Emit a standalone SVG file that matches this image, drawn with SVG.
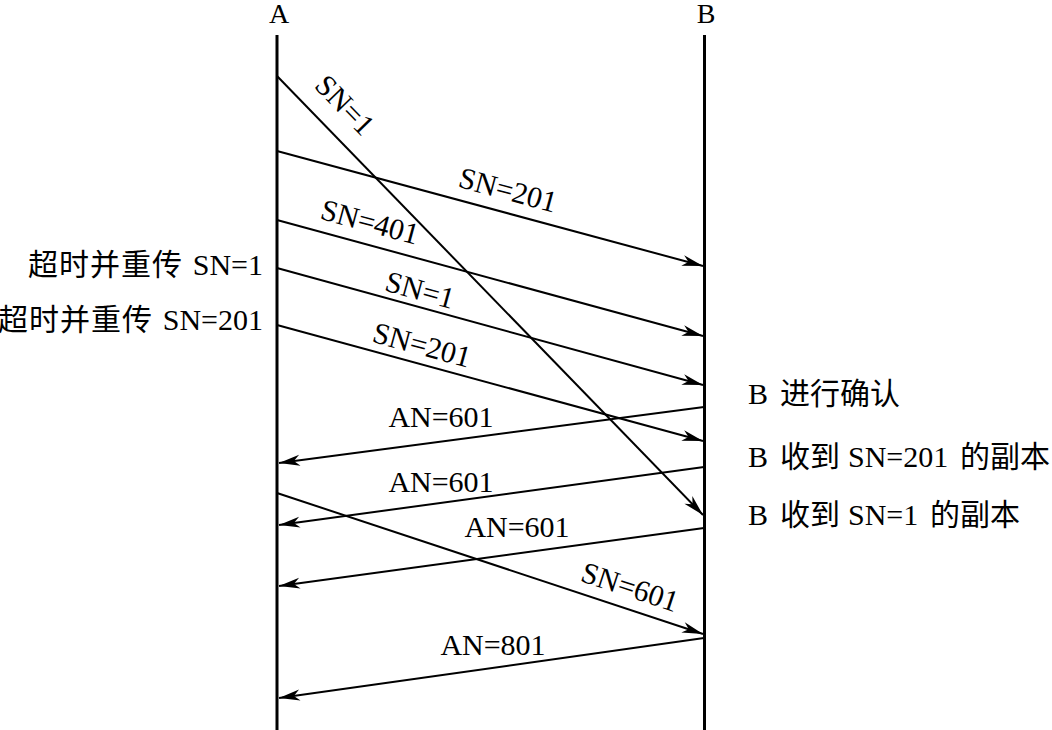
<svg xmlns="http://www.w3.org/2000/svg" width="1052" height="730" viewBox="0 0 1052 730">
<defs>
<style>
.t{font-family:"Liberation Serif","Times New Roman",serif;font-size:30px;fill:#000}
.c{font-family:"Noto Sans CJK SC","Noto Sans CJK TC",sans-serif;font-size:30px;fill:#000}
.m{text-anchor:middle}
.e{text-anchor:end}
.life{stroke:#000;stroke-width:3;fill:none}
.msg{stroke:#000;stroke-width:2;fill:none;marker-end:url(#ah)}
</style>
<marker id="ah" markerUnits="userSpaceOnUse" markerWidth="24" markerHeight="14" viewBox="-22 -7 24 14" refX="0" refY="0" orient="auto">
<path d="M0,0 L-21,-5.5 L-15,0 L-21,5.5 Z" fill="#000"/>
</marker>
</defs>
<rect width="1052" height="730" fill="#fff"/>
<g id="nodeA">
<text class="t m" x="279" y="23" style="font-size:28px">A</text>
<line class="life" x1="277" y1="35" x2="277" y2="730"/>
</g>
<g id="nodeB">
<text class="t m" x="706" y="23" style="font-size:28px">B</text>
<line class="life" x1="704.5" y1="35" x2="704.5" y2="730"/>
</g>
<g id="connectors">
<line class="msg" x1="277" y1="76" x2="703" y2="515"/>
<line class="msg" x1="277" y1="151" x2="703" y2="266"/>
<line class="msg" x1="277" y1="220" x2="703" y2="336"/>
<line class="msg" x1="277" y1="268" x2="703" y2="385"/>
<line class="msg" x1="277" y1="325" x2="703" y2="441"/>
<line class="msg" x1="704" y1="407" x2="279" y2="463"/>
<line class="msg" x1="704" y1="467" x2="279" y2="525"/>
<line class="msg" x1="704" y1="528" x2="279" y2="586"/>
<line class="msg" x1="277" y1="493" x2="703" y2="634"/>
<line class="msg" x1="704" y1="638" x2="279" y2="698"/>
</g>
<g id="labels">
<text class="t m" transform="translate(345,105) rotate(45.9)" y="10">SN=1</text>
<text class="t m" transform="translate(508,190) rotate(15.1)" y="10">SN=201</text>
<text class="t m" transform="translate(370,222) rotate(15.2)" y="10">SN=401</text>
<text class="t m" transform="translate(420,290) rotate(15.4)" y="10">SN=1</text>
<text class="t m" transform="translate(422,345) rotate(15.2)" y="10">SN=201</text>
<text class="t m" transform="translate(630,587) rotate(18.3)" y="10">SN=601</text>
<text class="t m" x="441" y="427">AN=601</text>
<text class="t m" x="441" y="492">AN=601</text>
<text class="t m" x="517" y="537">AN=601</text>
<text class="t m" x="493" y="655">AN=801</text>
</g>
<g id="noteA1">
<text class="c e" x="183" y="275" letter-spacing="1">超时并重传</text>
<text class="t e" x="263" y="275">SN=1</text>
</g>
<g id="noteA2">
<text class="c e" x="153" y="330" letter-spacing="1">超时并重传</text>
<text class="t e" x="263" y="330">SN=201</text>
</g>
<g id="noteB1">
<text class="t" x="748" y="404">B</text>
<text class="c" x="780" y="404">进行确认</text>
</g>
<g id="noteB2">
<text class="t" x="748" y="467">B</text>
<text class="c" x="780" y="467">收到</text>
<text class="t" x="848" y="467">SN=201</text>
<text class="c" x="960" y="467">的副本</text>
</g>
<g id="noteB3">
<text class="t" x="748" y="525">B</text>
<text class="c" x="780" y="525">收到</text>
<text class="t" x="848" y="525">SN=1</text>
<text class="c" x="930" y="525">的副本</text>
</g>
</svg>
